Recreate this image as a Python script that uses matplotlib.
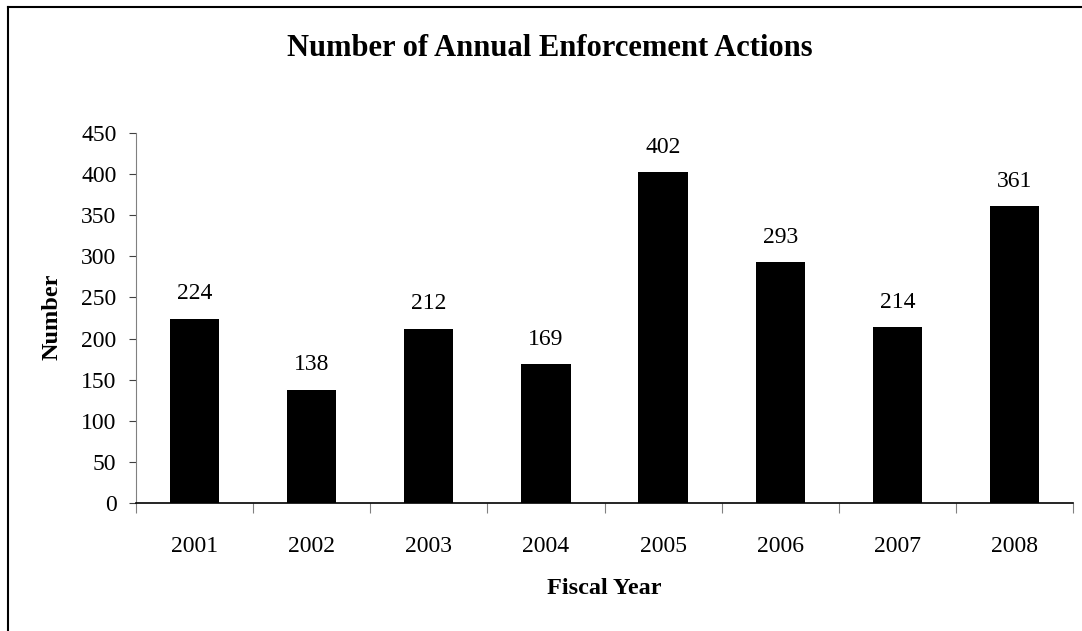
import matplotlib
matplotlib.use("Agg")
import matplotlib.pyplot as plt
from matplotlib.lines import Line2D

# values
years = ["2001", "2002", "2003", "2004", "2005", "2006", "2007", "2008"]
actions = [224, 138, 212, 169, 402, 293, 214, 361]

plt.rcParams["font.family"] = ["Liberation Serif", "DejaVu Serif"]

W, H = 1082, 631
fig = plt.figure(figsize=(W / 100, H / 100), dpi=100)
ax = fig.add_axes([136 / W, 1 - 503 / H, (1073 - 136) / W, (503 - 133) / H])

pos = list(range(1, len(years) + 1))
ax.bar(pos, actions, width=0.42, color="black")

for x, v in zip(pos, actions):
    ax.annotate(str(v), (x, v), xytext=(0, 18), textcoords="offset points",
                ha="center", va="center", fontsize=17)

ax.set_xlim(0.5, len(years) + 0.5)
ax.set_ylim(0, 450)
ax.set_yticks(range(0, 451, 50))

# ticks between categories, labels centred under bars
ax.set_xticks([p - 0.5 for p in pos] + [len(years) + 0.5])
ax.set_xticklabels([])
ax.set_xticks(pos, minor=True)
ax.set_xticklabels(years, minor=True)
ax.tick_params(axis="x", which="major", length=7, color="#808080", direction="out")
ax.tick_params(axis="x", which="minor", length=0, pad=24, labelsize=17)
ax.tick_params(axis="y", length=5, color="#404040", direction="out", pad=9, labelsize=17)

for s in ("top", "right"):
    ax.spines[s].set_visible(False)
ax.spines["left"].set_color("#808080")
ax.spines["bottom"].set_color("black")
ax.spines["bottom"].set_linewidth(1.2)

fig.text(604 / W, 1 - 588 / H, "Fiscal Year", ha="center", va="center",
         fontsize=17.5, fontweight="bold")
fig.text(52 / W, 1 - 317 / H, "Number", ha="center", va="center",
         rotation=90, fontsize=17.5, fontweight="bold")
fig.text(550 / W, 1 - 48 / H, "Number of Annual Enforcement Actions",
         ha="center", va="center", fontsize=22, fontweight="bold")

# chart-area border (cut off at right and bottom)
fig.add_artist(Line2D([8 / W, 8 / W], [0, 1 - 7 / H], transform=fig.transFigure,
                      color="black", linewidth=1.5))
fig.add_artist(Line2D([8 / W, 1], [1 - 7 / H, 1 - 7 / H], transform=fig.transFigure,
                      color="black", linewidth=1.5))

fig.savefig("out.png", dpi=100)
